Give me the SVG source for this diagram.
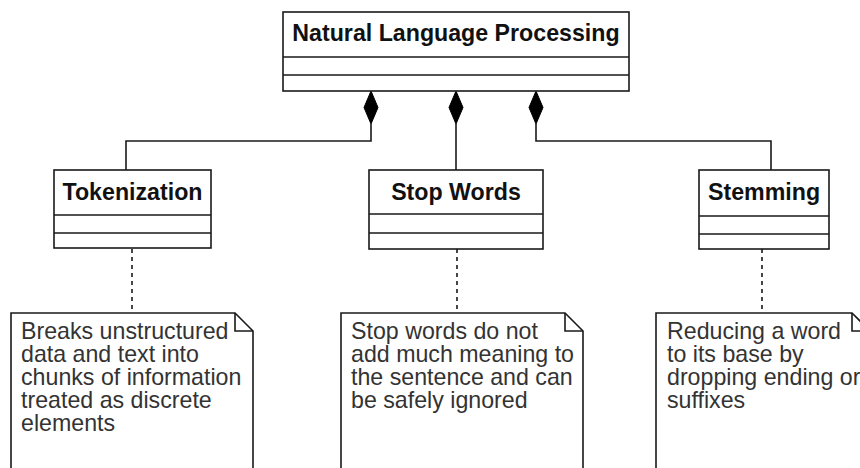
<svg xmlns="http://www.w3.org/2000/svg" width="860" height="468" viewBox="0 0 860 468">
  <defs>
    <style>
      .box { fill: #ffffff; stroke: #1a1a1a; stroke-width: 1.6; }
      .div { stroke: #1a1a1a; stroke-width: 1.6; fill: none; }
      .title { font-family: "Liberation Sans", Arial, sans-serif; font-weight: bold; font-size: 23.2px; fill: #111111; text-anchor: middle; }
      .wire { fill: none; stroke: #1a1a1a; stroke-width: 1.6; }
      .diamond { fill: #000000; stroke: #000000; stroke-width: 1; }
      .dash { fill: none; stroke: #1a1a1a; stroke-width: 1.6; stroke-dasharray: 4 4; }
      .note { fill: #ffffff; stroke: #1a1a1a; stroke-width: 1.6; }
      .notetext { font-family: "Liberation Sans", Arial, sans-serif; font-size: 23.2px; fill: #333333; }
    </style>
  </defs>

  <rect width="860" height="468" fill="#ffffff"/>

  <!-- composition connectors -->
  <g id="connectors">
    <path class="wire" d="M371,124 V141 H126 V170"/>
    <path class="wire" d="M456,124 V170"/>
    <path class="wire" d="M536,124 V141 H771 V170"/>
    <polygon class="diamond" points="371,91 378,107.5 371,124 364,107.5"/>
    <polygon class="diamond" points="456,91 463,107.5 456,124 449,107.5"/>
    <polygon class="diamond" points="536,91 543,107.5 536,124 529,107.5"/>
    <path class="dash" d="M132,249 V313"/>
    <path class="dash" d="M457,249 V313"/>
    <path class="dash" d="M762,249 V313"/>
  </g>

  <g id="nlp">
    <rect class="box" x="283" y="12" width="346" height="79"/>
    <path class="div" d="M283,57 H629 M283,75 H629"/>
    <text class="title" x="456" y="41">Natural Language Processing</text>
  </g>

  <g id="tokenization">
    <rect class="box" x="54" y="170" width="157" height="78"/>
    <path class="div" d="M54,215 H211 M54,233 H211"/>
    <text class="title" x="132.5" y="200">Tokenization</text>
  </g>

  <g id="stopwords">
    <rect class="box" x="369" y="170" width="174" height="79"/>
    <path class="div" d="M369,214 H543 M369,233 H543"/>
    <text class="title" x="456" y="200">Stop Words</text>
  </g>

  <g id="stemming">
    <rect class="box" x="699" y="170" width="130" height="79"/>
    <path class="div" d="M699,216 H829 M699,234 H829"/>
    <text class="title" x="764" y="200">Stemming</text>
  </g>

  <g id="note-tokenization">
    <path class="note" d="M11,472 V313 H235 L253,331 V472"/>
    <path class="div" d="M235,313 V331 H253"/>
    <text class="notetext">
      <tspan x="21" y="339">Breaks unstructured</tspan>
      <tspan x="21" y="362">data and text into</tspan>
      <tspan x="21" y="385">chunks of information</tspan>
      <tspan x="21" y="408">treated as discrete</tspan>
      <tspan x="21" y="431">elements</tspan>
    </text>
  </g>

  <g id="note-stopwords">
    <path class="note" d="M341,472 V313 H565 L583,331 V472"/>
    <path class="div" d="M565,313 V331 H583"/>
    <text class="notetext">
      <tspan x="351" y="339">Stop words do not</tspan>
      <tspan x="351" y="362">add much meaning to</tspan>
      <tspan x="351" y="385">the sentence and can</tspan>
      <tspan x="351" y="408">be safely ignored</tspan>
    </text>
  </g>

  <g id="note-stemming">
    <path class="note" d="M656,472 V313 H852 L870,331 V472"/>
    <path class="div" d="M852,313 V331 H870"/>
    <text class="notetext">
      <tspan x="667" y="339">Reducing a word</tspan>
      <tspan x="667" y="362">to its base by</tspan>
      <tspan x="667" y="385">dropping ending or</tspan>
      <tspan x="667" y="408">suffixes</tspan>
    </text>
  </g>
</svg>
